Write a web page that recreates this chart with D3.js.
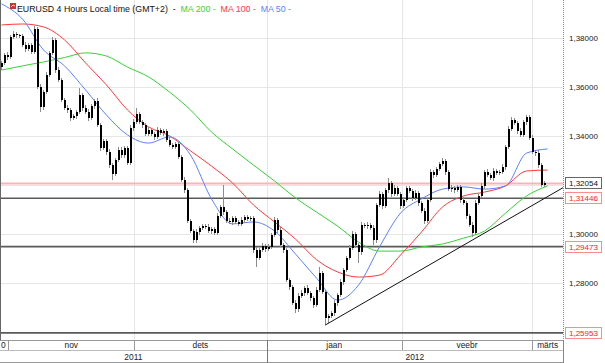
<!DOCTYPE html>
<html>
<head>
<meta charset="utf-8">
<script src="https://cdnjs.cloudflare.com/ajax/libs/d3/7.8.5/d3.min.js"></script>
<style>
  body { margin: 0; background: #fff; }
  svg { display: block; font-family: "Liberation Sans", Arial, sans-serif; }
</style>
</head>
<body>
<div id="chart-area"></div>
<script>
// EURUSD, closes in pips above 1.0000 (one bar here = 12h)
var closePips = [
    3697, 3729, 3722, 3803, 3815, 3811, 3807, 3770, 3754, 3770,
    3742, 3836, 3599, 3517, 3578, 3648, 3738, 3791, 3668, 3627,
    3546, 3513, 3505, 3472, 3480, 3497, 3566, 3513, 3497, 3472,
    3521, 3542, 3444, 3350, 3378, 3334, 3280, 3244, 3301, 3342,
    3321, 3350, 3289, 3431, 3456, 3489, 3456, 3444, 3407, 3423,
    3407, 3395, 3423, 3411, 3418, 3382, 3362, 3355, 3366, 3313,
    3219, 3178, 3052, 3011, 2974, 3007, 3023, 3031, 3027, 3011,
    3019, 3003, 3072, 3109, 3088, 3052, 3048, 3064, 3048, 3041,
    3056, 3068, 3060, 3064, 2933, 2901, 2933, 2950, 2938, 2946,
    2995, 3056, 3015, 2954, 2933, 2811, 2782, 2717, 2692, 2746,
    2758, 2778, 2758, 2737, 2709, 2770, 2840, 2762, 2656, 2663,
    2676, 2717, 2750, 2803, 2852, 2901, 2942, 2999, 2954, 2925,
    3036, 3031, 3036, 3023, 2974, 3117, 3162, 3113, 3178, 3207,
    3162, 3186, 3162, 3113, 3138, 3186, 3174, 3146, 3166, 3125,
    3093, 3052, 3138, 3252, 3240, 3264, 3284, 3297, 3252, 3182,
    3186, 3178, 3190, 3138, 3125, 3072, 3036, 3003, 3125, 3154,
    3195, 3252, 3240, 3226, 3256, 3248, 3252, 3272, 3354, 3428,
    3464, 3452, 3419, 3403, 3456, 3476, 3390, 3333, 3329, 3280,
    3199, 3205
]
var firstOpen = 3680

var wickUp = [
    8, 10, 12, 8, 14, 10, 6, 9, 12, 7,
    10, 12, 8, 14, 9, 11, 7, 10, 6, 12,
    9, 7, 12, 8, 10, 9, 28, 8, 11, 10,
    7, 9, 12, 6, 10, 8, 12, 9, 7, 10,
    11, 8, 9, 13, 12, 26, 8, 10, 7, 12,
    9, 8, 11, 7, 10, 9, 12, 8, 10, 9,
    7, 11, 8, 10, 9, 12, 7, 10, 8, 11,
    9, 8, 12, 10, 90, 9, 11, 8, 10, 7,
    12, 9, 8, 10, 7, 11, 9, 12, 8, 10,
    9, 12, 8, 11, 7, 10, 9, 8, 12, 10,
    11, 8, 13, 9, 10, 12, 24, 8, 10, 9,
    7, 11, 9, 12, 10, 8, 11, 14, 9, 10,
    12, 8, 10, 9, 11, 7, 12, 10, 9, 20,
    8, 11, 9, 10, 12, 8, 10, 9, 11, 7,
    10, 12, 9, 11, 8, 10, 9, 12, 8, 10,
    11, 9, 10, 8, 12, 9, 7, 10, 11, 8,
    10, 9, 12, 8, 11, 10, 9, 12, 8, 10,
    12, 9, 10, 11, 8, 9, 10, 12, 9, 11,
    8, 10
]
var wickDn = [
    10, 8, 12, 9, 7, 11, 10, 8, 12, 9,
    8, 10, 9, 20, 11, 8, 10, 9, 12, 8,
    10, 9, 11, 12, 8, 10, 9, 11, 8, 12,
    9, 10, 8, 11, 9, 12, 10, 24, 9, 8,
    10, 12, 9, 8, 11, 10, 9, 12, 8, 10,
    9, 11, 8, 10, 12, 9, 10, 8, 11, 9,
    10, 12, 9, 8, 12, 10, 11, 9, 8, 10,
    12, 9, 10, 8, 11, 9, 10, 12, 8, 9,
    10, 11, 9, 8, 12, 37, 10, 9, 11, 8,
    10, 9, 12, 8, 11, 10, 12, 9, 16, 10,
    8, 11, 9, 10, 12, 9, 8, 10, 29, 20,
    9, 10, 12, 8, 11, 9, 10, 8, 12, 45,
    10, 9, 11, 8, 20, 10, 9, 12, 8, 10,
    11, 9, 10, 12, 8, 10, 9, 11, 8, 12,
    9, 14, 10, 8, 11, 9, 10, 8, 12, 9,
    10, 11, 9, 12, 8, 10, 9, 16, 10, 8,
    9, 11, 10, 8, 12, 9, 10, 8, 11, 9,
    10, 8, 12, 9, 10, 11, 8, 9, 12, 10,
    9, 8
]

// moving averages, one value every maStep bars
var maStep = 7
var ma50 = [3938, 3876, 3750, 3685, 3587, 3484, 3403, 3370, 3395, 3321, 3142, 3040, 3048, 3011,
            2917, 2819, 2729, 2790, 2946, 3084, 3142, 3182, 3191, 3182, 3195, 3329, 3346]
var ma100 = [3852, 3856, 3844, 3791, 3697, 3607, 3505, 3436, 3399, 3338, 3276, 3207, 3117, 3048,
             2978, 2894, 2844, 2823, 2831, 2913, 3007, 3109, 3154, 3170, 3195, 3256, 3260]
var ma200 = [3668, 3685, 3701, 3719, 3738, 3725, 3680, 3640, 3578, 3505, 3415, 3346, 3280, 3215,
             3146, 3088, 3031, 2966, 2929, 2929, 2946, 2958, 2982, 3011, 3084, 3154, 3195]

var nSlots = 188
var monthStarts = [0, 2.8, 44.7, 88.9, 133.9, 177.4]
var monthLabels = ["0", "nov", "dets", "jaan", "veebr", "märts"]
var yearStarts = [0, 88.9]
var yearLabels = ["2011", "2012"]

var priceTicks = [1.28, 1.30, 1.32, 1.34, 1.36, 1.38]
var lastPrice = 1.32054
var levels = [1.31446, 1.29473, 1.25953]
var trendLine = [[108.4, 1.2627], [187.7, 1.3188]]

var maSeries = [
    {name: "MA 200", values: ma200, color: "#33d633"},
    {name: "MA 100", values: ma100, color: "#ff3b3b"},
    {name: "MA 50", values: ma50, color: "#5c82ff"}
]

function init() {
    var svgWidth = 605, svgHeight = 363
    var plotRight = 563, plotBottom = 340

    var svg = d3.select("#chart-area").append("svg")
        .attr("width", svgWidth)
        .attr("height", svgHeight)

    var xScale = d3.scaleLinear().domain([0, nSlots]).range([0, 564])
    var yScale = d3.scaleLinear().domain([1.28, 1.38]).range([282.7, 37.7])

    var loc = d3.formatLocale({decimal: ",", thousands: " ", grouping: [3], currency: ["", ""]})
    var fmt = loc.format(".5f")

    svg.append("defs").append("clipPath").attr("id", "plot-clip")
        .append("rect").attr("x", 0).attr("y", 0).attr("width", plotRight).attr("height", plotBottom)

    var plot = svg.append("g").attr("clip-path", "url(#plot-clip)")

    // grid
    plot.selectAll(".hgrid").data(priceTicks).enter().append("line")
        .attr("x1", 0).attr("x2", plotRight)
        .attr("y1", d => Math.round(yScale(d)) + 0.5)
        .attr("y2", d => Math.round(yScale(d)) + 0.5)
        .attr("stroke", "#e6e6e6")
    plot.selectAll(".vgrid").data(monthStarts.slice(2)).enter().append("line")
        .attr("x1", d => Math.round(xScale(d)) + 0.5)
        .attr("x2", d => Math.round(xScale(d)) + 0.5)
        .attr("y1", 0).attr("y2", plotBottom)
        .attr("stroke", "#e6e6e6")

    // horizontal levels
    plot.append("line")
        .attr("x1", 0).attr("x2", plotRight)
        .attr("y1", yScale(lastPrice)).attr("y2", yScale(lastPrice))
        .attr("stroke", "#ffb4b4").attr("stroke-width", 2)
    plot.selectAll(".level").data(levels).enter().append("line")
        .attr("x1", 0).attr("x2", plotRight)
        .attr("y1", d => yScale(d)).attr("y2", d => yScale(d))
        .attr("stroke", "#5a5a5a").attr("stroke-width", 1.6)

    // moving averages
    var maLine = d3.line()
        .x((d, k) => xScale(k * maStep + 0.5))
        .y(d => yScale(1 + d / 10000))
        .curve(d3.curveMonotoneX)
    plot.selectAll(".ma").data(maSeries).enter().append("path")
        .attr("d", d => maLine(d.values))
        .attr("fill", "none")
        .attr("stroke", d => d.color)
        .attr("stroke-width", 1)

    // candles
    var candles = closePips.map((c, i) => {
        var o = i === 0 ? firstOpen : closePips[i - 1]
        return {
            i: i,
            open: 1 + o / 10000,
            close: 1 + c / 10000,
            high: 1 + (Math.max(o, c) + wickUp[i]) / 10000,
            low: 1 + (Math.min(o, c) - wickDn[i]) / 10000
        }
    })
    var cg = plot.append("g").attr("shape-rendering", "crispEdges")
    cg.selectAll(".wick").data(candles).enter().append("line")
        .attr("x1", d => Math.round(xScale(d.i)) + 1.5)
        .attr("x2", d => Math.round(xScale(d.i)) + 1.5)
        .attr("y1", d => yScale(d.high))
        .attr("y2", d => yScale(d.low))
        .attr("stroke", "#8c8c8c")
    cg.selectAll(".body").data(candles).enter().append("rect")
        .attr("x", d => Math.round(xScale(d.i)) + 0.5)
        .attr("width", 2.5)
        .attr("y", d => yScale(Math.max(d.open, d.close)))
        .attr("height", d => Math.max(1, Math.abs(yScale(d.open) - yScale(d.close))))
        .attr("fill", "#000")

    // trend line
    plot.append("line")
        .attr("x1", xScale(trendLine[0][0])).attr("y1", yScale(trendLine[0][1]))
        .attr("x2", xScale(trendLine[1][0])).attr("y2", yScale(trendLine[1][1]))
        .attr("stroke", "#111").attr("stroke-width", 1)

    // borders
    svg.append("line").attr("x1", 0.5).attr("x2", 0.5).attr("y1", 0).attr("y2", plotBottom)
        .attr("stroke", "#666")
    svg.append("line").attr("x1", plotRight + 0.5).attr("x2", plotRight + 0.5).attr("y1", 0).attr("y2", plotBottom)
        .attr("stroke", "#888").attr("stroke-dasharray", "1,1")
    svg.append("line").attr("x1", plotRight + 0.5).attr("x2", plotRight + 0.5).attr("y1", plotBottom).attr("y2", svgHeight)
        .attr("stroke", "#888")

    // price labels
    var boxed = [lastPrice].concat(levels)
    var freeTicks = priceTicks.filter(t => boxed.every(b => Math.abs(yScale(b) - yScale(t)) > 9))
    svg.selectAll(".ytick").data(freeTicks).enter().append("text")
        .attr("x", 569).attr("y", d => yScale(d)).attr("dy", "0.35em")
        .attr("font-size", "8px").attr("fill", "#222")
        .text(d => fmt(d))

    var boxes = svg.selectAll(".pbox").data(boxed).enter().append("g")
        .attr("transform", d => "translate(565," + (Math.round(yScale(d)) - 5.5) + ")")
    boxes.append("rect")
        .attr("x", 0.5).attr("y", 0).attr("width", 36).attr("height", 11)
        .attr("fill", "#fff")
        .attr("stroke", (d, k) => k === 0 ? "#666" : "#ff8c8c")
    boxes.append("text")
        .attr("x", 4).attr("y", 5.5).attr("dy", "0.35em")
        .attr("font-size", "8px")
        .attr("fill", (d, k) => k === 0 ? "#111" : "#ff2020")
        .text(d => fmt(d))

    // time axis
    var ax = svg.append("g").attr("shape-rendering", "crispEdges")
    ax.append("line").attr("x1", 0).attr("x2", plotRight).attr("y1", plotBottom + 0.5).attr("y2", plotBottom + 0.5)
        .attr("stroke", "#999")
    ax.append("line").attr("x1", 0).attr("x2", plotRight).attr("y1", 350.5).attr("y2", 350.5)
        .attr("stroke", "#bbb")
    ax.append("line").attr("x1", 0).attr("x2", plotRight).attr("y1", 362.5).attr("y2", 362.5)
        .attr("stroke", "#999")

    var monthEnds = monthStarts.slice(1).concat([nSlots])
    ax.selectAll(".msep").data(monthStarts.slice(1)).enter().append("line")
        .attr("x1", d => Math.round(xScale(d)) + 0.5).attr("x2", d => Math.round(xScale(d)) + 0.5)
        .attr("y1", plotBottom).attr("y2", 350)
        .attr("stroke", "#999")
    svg.selectAll(".mlab").data(monthLabels).enter().append("text")
        .attr("x", (d, k) => k === 0 ? 1 : (xScale(monthStarts[k]) + Math.min(xScale(monthEnds[k]), plotRight)) / 2)
        .attr("y", 348)
        .attr("text-anchor", (d, k) => k === 0 ? "start" : "middle")
        .attr("font-size", "8.4px").attr("fill", "#222")
        .text(d => d)

    var yearEnds = yearStarts.slice(1).concat([nSlots])
    ax.selectAll(".ysep").data(yearStarts.slice(1)).enter().append("line")
        .attr("x1", d => Math.round(xScale(d)) + 0.5).attr("x2", d => Math.round(xScale(d)) + 0.5)
        .attr("y1", plotBottom).attr("y2", svgHeight)
        .attr("stroke", "#777")
    svg.selectAll(".ylab").data(yearLabels).enter().append("text")
        .attr("x", (d, k) => (xScale(yearStarts[k]) + Math.min(xScale(yearEnds[k]), plotRight)) / 2)
        .attr("y", 359.5)
        .attr("text-anchor", "middle")
        .attr("font-size", "8.4px").attr("fill", "#222")
        .text(d => d)

    // title / legend
    svg.append("rect").attr("x", 10).attr("y", 3).attr("width", 6).attr("height", 6).attr("fill", "#c0392b")
    svg.append("path").attr("d", "M11,7 L13,5 L15,6").attr("stroke", "#fff").attr("fill", "none").attr("stroke-width", 0.8)
    var title = svg.append("text").attr("x", 17).attr("y", 11.5)
        .attr("font-size", "8.8px").style("white-space", "pre")
    title.append("tspan").attr("fill", "#111").text("EURUSD 4 Hours Local time (GMT+2)  -  ")
    maSeries.forEach(s => {
        title.append("tspan").attr("fill", s.color).text(s.name + " -  ")
    })
}

init()
</script>
</body>
</html>
